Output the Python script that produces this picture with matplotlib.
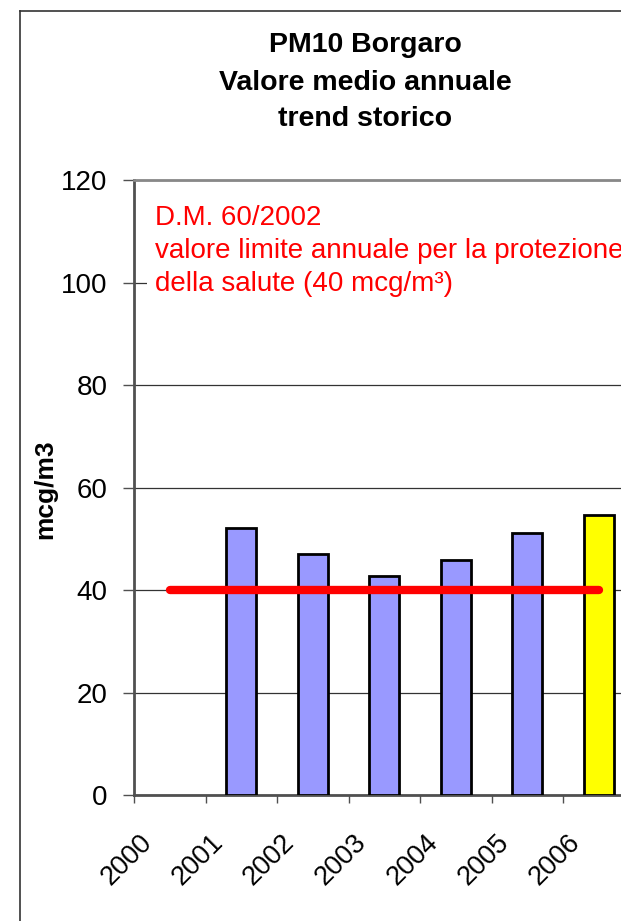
import matplotlib
matplotlib.use('Agg')
import matplotlib.pyplot as plt
import numpy as np
from matplotlib.lines import Line2D
from matplotlib.patches import Rectangle
from matplotlib.transforms import ScaledTranslation

plt.rcParams['font.family'] = ['Liberation Sans', 'DejaVu Sans']

years  = ['2000', '2001', '2002', '2003', '2004', '2005', '2006']
pm10   = [np.nan, 52.1, 47.0, 42.7, 45.9, 51.1, 54.7]
limit  = [40, 40, 40, 40, 40, 40, 40]
colors = ['#9999FF'] * 6 + ['#FFFF00']
yticks = [0, 20, 40, 60, 80, 100, 120]

W, H = 621, 921
fig = plt.figure(figsize=(W / 100, H / 100), dpi=100)
fig.patch.set_facecolor('white')

# chart-area border (only left and top edges fall inside the picture)
fig.add_artist(Line2D([20 / W, 20 / W], [1 - 11 / H, -0.1], color='#333333', lw=1.2))
fig.add_artist(Line2D([20 / W, 1.1], [1 - 11 / H, 1 - 11 / H], color='#333333', lw=1.2))

ax = fig.add_axes([134 / W, 126 / H, 500.5 / W, 615 / H])
x = np.arange(len(years))

ax.bar(x, pm10, width=0.42, color=colors, edgecolor='black', linewidth=2, zorder=3)
ax.plot(x, limit, color='#FF0000', lw=6, solid_capstyle='round', zorder=4)

ax.set_xlim(-0.5, 6.5)
ax.set_ylim(0, 120)
ax.set_yticks(yticks)
ax.yaxis.grid(True, color='#333333', lw=0.9, zorder=0)
ax.set_axisbelow(True)

ax.spines['right'].set_visible(False)
ax.spines['top'].set_color('#888888')
ax.spines['top'].set_linewidth(2)
ax.spines['left'].set_color('#505050')
ax.spines['left'].set_linewidth(2)
ax.spines['bottom'].set_color('#505050')
ax.spines['bottom'].set_linewidth(2)

ax.tick_params(axis='y', direction='out', length=8, width=1, color='#505050',
               pad=11, labelsize=20)

# category labels at centres, ticks on the category boundaries
ax.set_xticks(x)
ax.set_xticklabels(years, rotation=45, ha='right', va='center',
                   rotation_mode='anchor', fontsize=19.5)
ax.tick_params(axis='x', which='major', length=0, pad=31.4)
ax.set_xticks(np.arange(-0.5, 7, 1), minor=True)
ax.tick_params(axis='x', which='minor', direction='out', length=6, width=1,
               color='#505050')
shift = ScaledTranslation(-22 / 100, 0, fig.dpi_scale_trans)
for lab in ax.get_xticklabels():
    lab.set_transform(lab.get_transform() + shift)

# title
title_lines = ['PM10 Borgaro', 'Valore medio annuale', 'trend storico']
for line, yb in zip(title_lines, [52, 90, 126]):
    fig.text(365 / W, 1 - yb / H, line, ha='center', va='baseline',
             fontsize=20.5, fontweight='bold')

fig.text(45 / W, 1 - 489 / H, 'mcg/m3', rotation=90, ha='center', va='center',
         fontsize=19, fontweight='bold')

# white box behind the limit annotation hides the gridline
ax.add_patch(Rectangle((147 / W, 1 - 306 / H), 0.9, 112 / H,
                       transform=fig.transFigure, facecolor='white',
                       edgecolor='none', zorder=2))

note_lines = ['D.M. 60/2002',
              'valore limite annuale per la protezione',
              'della salute (40 mcg/m³)']
for line, yb in zip(note_lines, [225, 258, 291]):
    fig.text(155 / W, 1 - yb / H, line, ha='left', va='baseline',
             fontsize=20, color='#FF0000')

fig.savefig('out.png', dpi=100)
